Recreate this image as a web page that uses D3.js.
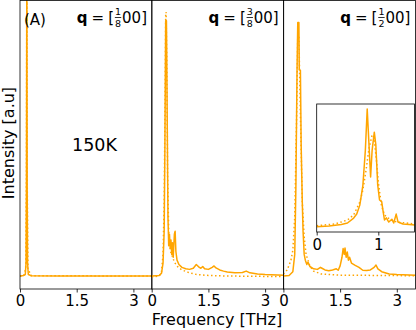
<!DOCTYPE html>
<html>
<head>
<meta charset="utf-8">
<script src="https://cdn.jsdelivr.net/npm/d3@7"></script>
<style>
  body { margin: 0; background: #fff; }
  svg { font-family: "DejaVu Sans", sans-serif; }
</style>
</head>
<body>
<svg id="chart" width="416" height="330"></svg>
<script>
// tick labels
const freqTicks = [0, 1.5, 3];
const insetTicks = [0, 1];
const qLabels = [["1", "8"], ["3", "8"], ["1", "2"]];

// panel 1, q = [1/8 0 0]
const p1Freq   = [0, 0.05, 0.1, 0.14, 0.16, 0.17, 0.18, 0.19, 0.2, 0.22, 0.3, 1, 2, 3, 3.5];
const p1Solid  = [0.045, 0.046, 0.047, 0.05, 0.09, 0.35, 1.1, 0.35, 0.09, 0.05, 0.046, 0.045, 0.045, 0.045, 0.045];
const p1DotFreq = [0, 0.1, 0.15, 0.17, 0.18, 0.19, 0.21, 0.3, 3.5];
const p1Dotted  = [0.045, 0.046, 0.07, 0.4, 1.1, 0.4, 0.07, 0.046, 0.045];

// panel 2, q = [3/8 0 0]
const p2Freq  = [0, 0.2, 0.26, 0.3, 0.33, 0.35, 0.37, 0.39, 0.41, 0.43, 0.45, 0.47, 0.49, 0.51, 0.53, 0.55, 0.57, 0.6, 0.62, 0.64, 0.67, 0.72, 0.8, 0.9, 1.0, 1.1, 1.18, 1.22, 1.26, 1.3, 1.35, 1.4, 1.5, 1.6, 1.65, 1.7, 1.8, 1.9, 2.0, 2.2, 2.4, 2.5, 2.6, 2.8, 3.0, 3.5];
const p2Solid = [0.045, 0.047, 0.055, 0.09, 0.2, 0.5, 0.93, 0.93, 0.6, 0.25, 0.15, 0.19, 0.14, 0.17, 0.12, 0.16, 0.11, 0.19, 0.2, 0.13, 0.1, 0.085, 0.075, 0.07, 0.068, 0.072, 0.085, 0.08, 0.075, 0.072, 0.078, 0.07, 0.068, 0.075, 0.08, 0.073, 0.066, 0.062, 0.059, 0.056, 0.057, 0.062, 0.056, 0.052, 0.05, 0.048];
const p2DotFreq = [0, 0.2, 0.26, 0.3, 0.33, 0.35, 0.37, 0.38, 0.4, 0.42, 0.45, 0.5, 0.6, 0.7, 0.8, 1.0, 1.2, 1.5, 2, 3.5];
const p2Dotted  = [0.042, 0.045, 0.06, 0.12, 0.3, 0.6, 0.95, 0.96, 0.8, 0.4, 0.2, 0.13, 0.093, 0.075, 0.066, 0.056, 0.05, 0.047, 0.045, 0.043];

// panel 3, q = [1/2 0 0]
const p3Freq  = [0, 0.15, 0.25, 0.3, 0.33, 0.36, 0.38, 0.41, 0.42, 0.45, 0.47, 0.5, 0.52, 0.55, 0.58, 0.62, 0.65, 0.7, 0.8, 0.9, 0.98, 1.02, 1.1, 1.2, 1.3, 1.4, 1.45, 1.5, 1.55, 1.58, 1.61, 1.63, 1.66, 1.69, 1.72, 1.75, 1.8, 1.9, 2.0, 2.1, 2.2, 2.3, 2.4, 2.45, 2.5, 2.6, 2.8, 3.0, 3.5];
const p3Solid = [0.045, 0.047, 0.06, 0.12, 0.35, 0.75, 0.924, 0.924, 0.76, 0.758, 0.5, 0.3, 0.2, 0.12, 0.1, 0.085, 0.093, 0.078, 0.07, 0.068, 0.075, 0.072, 0.066, 0.063, 0.066, 0.07, 0.065, 0.08, 0.11, 0.14, 0.12, 0.142, 0.11, 0.128, 0.1, 0.11, 0.09, 0.082, 0.075, 0.065, 0.064, 0.066, 0.075, 0.083, 0.07, 0.06, 0.052, 0.05, 0.048];
const p3DotFreq = [0, 0.1, 0.2, 0.25, 0.3, 0.35, 0.38, 0.41, 0.45, 0.5, 0.55, 0.6, 0.7, 0.8, 1.0, 1.5, 3.5];
const p3Dotted  = [0.052, 0.066, 0.1, 0.135, 0.25, 0.6, 0.88, 0.88, 0.6, 0.3, 0.18, 0.12, 0.08, 0.062, 0.052, 0.048, 0.046];

// inset of panel 3
const inFreq  = [0, 0.2, 0.4, 0.5, 0.6, 0.65, 0.7, 0.75, 0.79, 0.82, 0.845, 0.875, 0.9, 0.935, 0.96, 0.99, 1.02, 1.055, 1.08, 1.1, 1.13, 1.17, 1.22, 1.25, 1.29, 1.32, 1.4, 1.5, 1.6];
const inSolid = [0.041, 0.047, 0.059, 0.07, 0.109, 0.14, 0.21, 0.367, 0.64, 0.96, 0.72, 0.43, 0.64, 0.78, 0.68, 0.37, 0.25, 0.237, 0.156, 0.094, 0.11, 0.078, 0.1, 0.07, 0.14, 0.078, 0.0625, 0.059, 0.055];
const inDotFreq = [0, 0.3, 0.5, 0.6, 0.7, 0.75, 0.8, 0.85, 0.9, 0.93, 0.97, 1.0, 1.05, 1.1, 1.2, 1.3, 1.6];
const inDotted  = [0.049, 0.0625, 0.094, 0.133, 0.234, 0.328, 0.48, 0.656, 0.758, 0.74, 0.56, 0.39, 0.21, 0.133, 0.094, 0.078, 0.0625];

const orange = "#ffa500";
const svg = d3.select("#chart");
const plotTop = 0.5, plotBottom = 289, pw = 132;
const lefts = [20, 151.7, 283.4];

const panels = [
    {solid: [p1Freq, p1Solid], dotted: [p1DotFreq, p1Dotted]},
    {solid: [p2Freq, p2Solid], dotted: [p2DotFreq, p2Dotted]},
    {solid: [p3Freq, p3Solid], dotted: [p3DotFreq, p3Dotted]},
];

let y = d3.scaleLinear().domain([0, 1]).range([plotBottom, plotTop]);

function zip(a, b) { return a.map((d, i) => [d, b[i]]); }

function drawLines(g, x, yS, p, clipId) {
    let line = d3.line().x(d => x(d[0])).y(d => yS(d[1]));
    let lg = g.append("g").attr("clip-path", `url(#${clipId})`);
    lg.append("path")
        .datum(zip(p.dotted[0], p.dotted[1]))
        .attr("fill", "none")
        .attr("stroke", orange)
        .attr("stroke-width", 1.5)
        .attr("stroke-dasharray", "1.5,2.5")
        .attr("d", line);
    lg.append("path")
        .datum(zip(p.solid[0], p.solid[1]))
        .attr("fill", "none")
        .attr("stroke", orange)
        .attr("stroke-width", 1.5)
        .attr("stroke-linejoin", "round")
        .attr("d", line);
}

// q = [n/d 0 0] written like matplotlib mathtext
function qLabel(g, xRight, base, num, den) {
    let t = g.append("text").attr("y", base).style("font-size", "15px");
    t.append("tspan").style("font-weight", "bold").text("q");
    t.append("tspan").attr("dx", 4).text("=");
    t.append("tspan").attr("dx", 4).text("[");
    let w1 = t.node().getBBox().width;
    let t2 = g.append("text").attr("y", base).style("font-size", "15px").text("00]");
    let w2 = t2.node().getComputedTextLength();
    let fw = 8;
    let x0 = xRight - w2 - fw - w1;
    t.attr("x", x0);
    t2.attr("x", xRight - w2);
    let fx = x0 + w1 + fw / 2;
    g.append("text").attr("x", fx).attr("y", base - 8.5).attr("text-anchor", "middle")
        .style("font-size", "9.5px").text(num);
    g.append("line").attr("x1", fx - 3.2).attr("x2", fx + 3.2)
        .attr("y1", base - 5.5).attr("y2", base - 5.5)
        .attr("stroke", "#000").attr("stroke-width", 0.8);
    g.append("text").attr("x", fx).attr("y", base + 4).attr("text-anchor", "middle")
        .style("font-size", "9.5px").text(den);
}

function styleAxis(a) {
    a.select(".domain").remove();
    a.selectAll(".tick line").attr("stroke", "#000").attr("stroke-width", 0.8);
    a.selectAll(".tick text")
        .style("font-family", "DejaVu Sans")
        .style("font-size", "15px")
        .attr("fill", "#000");
}

let defs = svg.append("defs");

panels.forEach((p, i) => {
    let x = d3.scaleLinear().domain([0, pw / 37.8]).range([lefts[i], lefts[i] + pw]);
    defs.append("clipPath").attr("id", "clip" + i)
        .append("rect").attr("x", lefts[i]).attr("y", plotTop).attr("width", pw).attr("height", plotBottom - plotTop);

    let g = svg.append("g");
    drawLines(g, x, y, p, "clip" + i);

    // x axis
    g.append("g")
        .attr("transform", `translate(0,${plotBottom})`)
        .call(d3.axisBottom(x).tickValues(freqTicks).tickSize(3.5).tickPadding(3).tickFormat(d => d))
        .call(styleAxis);

    // frame
    g.append("rect")
        .attr("x", lefts[i]).attr("y", plotTop)
        .attr("width", pw).attr("height", plotBottom - plotTop)
        .attr("fill", "none").attr("stroke", "#000").attr("stroke-width", 0.8);

    qLabel(g, lefts[i] + pw - 5, 23, qLabels[i][0], qLabels[i][1]);
});

// inset
let ix0 = 316.7, ix1 = 414.5, iy0 = 104, iy1 = 232;
let xi = d3.scaleLinear().domain([0, 1]).range([ix0, 378.3]);
let yi = d3.scaleLinear().domain([0, 1]).range([iy1, iy0]);
svg.append("rect").attr("x", ix0).attr("y", iy0).attr("width", ix1 - ix0).attr("height", iy1 - iy0)
    .attr("fill", "#fff");
defs.append("clipPath").attr("id", "clipIn")
    .append("rect").attr("x", ix0).attr("y", iy0).attr("width", ix1 - ix0).attr("height", iy1 - iy0);
let gi = svg.append("g");
drawLines(gi, xi, yi, {solid: [inFreq, inSolid], dotted: [inDotFreq, inDotted]}, "clipIn");
gi.append("g")
    .attr("transform", `translate(0,${iy1})`)
    .call(d3.axisBottom(xi).tickValues(insetTicks).tickSize(3.5).tickPadding(4).tickFormat(d => d))
    .call(styleAxis);
gi.append("rect").attr("x", ix0).attr("y", iy0).attr("width", ix1 - ix0).attr("height", iy1 - iy0)
    .attr("fill", "none").attr("stroke", "#000").attr("stroke-width", 0.8);

// texts
svg.append("text").attr("x", 24).attr("y", 25).style("font-size", "15px").text("(A)");
svg.append("text").attr("x", 72).attr("y", 151).style("font-size", "17.5px").text("150K");

svg.append("text")
    .attr("x", 217).attr("y", 325)
    .attr("text-anchor", "middle")
    .style("font-size", "16px")
    .text("Frequency [THz]");

svg.append("text")
    .attr("transform", "rotate(-90)")
    .attr("x", -143).attr("y", 14)
    .attr("text-anchor", "middle")
    .style("font-size", "16px")
    .text("Intensity [a.u]");
</script>
</body>
</html>
